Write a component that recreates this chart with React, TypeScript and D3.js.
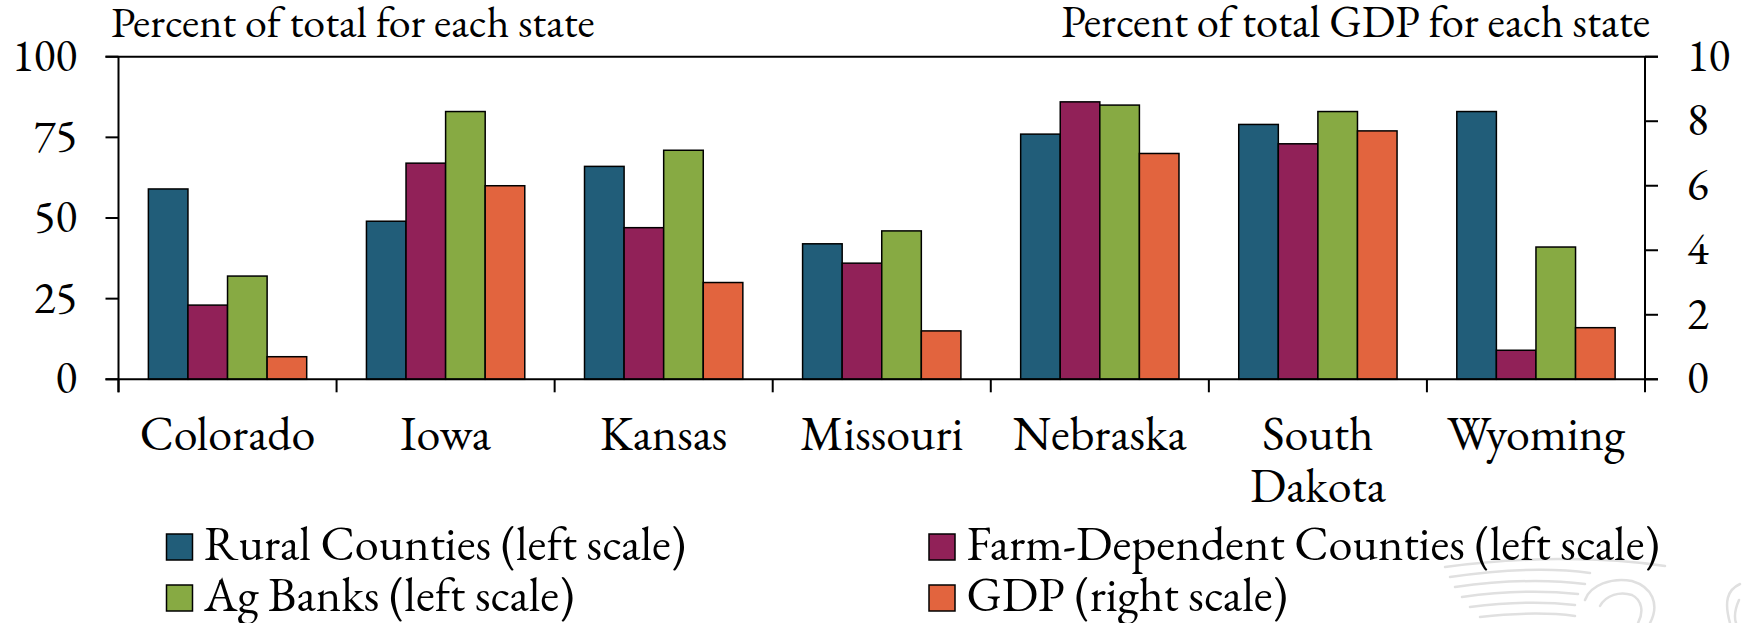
import React from "react";
import * as d3 from "d3";

const states = ["Colorado", "Iowa", "Kansas", "Missouri", "Nebraska", "South Dakota", "Wyoming"];
const ruralCounties = [59, 49, 66, 42, 76, 79, 83];
const farmDependent = [23, 67, 47, 36, 86, 73, 9];
const agBanks = [32, 83, 71, 46, 85, 83, 41];
const gdp = [0.7, 6.0, 3.0, 1.5, 7.0, 7.7, 1.6];
const leftTicks = [0, 25, 50, 75, 100];
const rightTicks = [0, 2, 4, 6, 8, 10];

const seriesNames = ["Rural Counties (left scale)", "Farm-Dependent Counties (left scale)", "Ag Banks (left scale)", "GDP (right scale)"];
const seriesKeys = ["rural", "farm", "ag", "gdp"];
const colors = ["#215D79", "#912158", "#87AA43", "#E2643E"];

const W = 1743;
const H = 623;
const FONT = "EB Garamond";
const ts = (size: number) => ({ fontFamily: FONT, fontSize: size });

export default function App() {
  const left = 118.5, right = 1645, top = 56.7, bottom = 379.3;
  const x0 = d3.scaleBand<string>().domain(states).range([left, right]).padding(0);
  const bw = x0.bandwidth();
  const groupPad = bw * 0.137;
  const x1 = d3.scaleBand<string>().domain(seriesKeys).range([groupPad, bw - groupPad]).padding(0);
  const yL = d3.scaleLinear().domain([0, 100]).range([bottom, top]);
  const yR = d3.scaleLinear().domain([0, 10]).range([bottom, top]);

  const rows = states.map((s, i) => ({
    state: s,
    vals: [
      { key: "rural", y: yL(ruralCounties[i]) },
      { key: "farm", y: yL(farmDependent[i]) },
      { key: "ag", y: yL(agBanks[i]) },
      { key: "gdp", y: yR(gdp[i]) },
    ],
  }));

  const tickLen = 13;
  const legendItems = [
    { name: seriesNames[0], color: colors[0], x: 166.5, y: 560 },
    { name: seriesNames[1], color: colors[1], x: 929, y: 560 },
    { name: seriesNames[2], color: colors[2], x: 166.5, y: 611 },
    { name: seriesNames[3], color: colors[3], x: 929, y: 611 },
  ];

  return (
    <svg width={W} height={H} style={{ position: "absolute", left: 0, top: 0, background: "#fff" }}>
      {/* watermark */}
      <g fill="none" stroke="#e0e0e0" strokeWidth={2.5} strokeLinecap="round">
        <path d="M1445,567 C1520,557 1600,556 1665,566" />
        <path d="M1450,577 C1505,569 1555,568 1590,573" />
        <path d="M1455,587 C1505,580 1545,579 1585,584" />
        <path d="M1462,597 C1505,591 1540,590 1578,594" />
        <path d="M1470,607 C1510,602 1540,601 1575,605" />
        <path d="M1480,617 C1515,613 1545,612 1575,616" />
        <path d="M1585,600 C1590,585 1612,577 1632,581 C1652,587 1660,604 1650,623" />
        <path d="M1600,606 C1606,595 1620,591 1632,595 C1642,600 1644,612 1638,623" />
        <path d="M1730,623 C1724,602 1727,590 1740,584" />
        <path d="M1739,600 C1735,609 1734,617 1736,623" />
      </g>

      {/* titles */}
      <text x={111} y={36.7} style={ts(44)} fill="#000">Percent of total for each state</text>
      <text x={1650} y={36.7} style={ts(44.5)} fill="#000" textAnchor="end">Percent of total GDP for each state</text>

      {/* bars */}
      {rows.map((r) => (
        <g key={r.state} transform={`translate(${x0(r.state)},0)`}>
          {r.vals.map((v, j) => (
            <rect
              key={v.key}
              x={x1(v.key)}
              y={v.y}
              width={x1.bandwidth()}
              height={bottom - v.y}
              fill={colors[j]}
              stroke="#000"
              strokeWidth={1.5}
            />
          ))}
        </g>
      ))}

      {/* axes */}
      <g stroke="#000" strokeWidth={2}>
        <line x1={left - tickLen} x2={right + tickLen} y1={top} y2={top} />
        <line x1={left - tickLen} x2={right + tickLen} y1={bottom} y2={bottom} />
        <line x1={left} x2={left} y1={top} y2={bottom + tickLen} />
        <line x1={right} x2={right} y1={top} y2={bottom + tickLen} />
        {leftTicks.map((t) => (
          <line key={"lt" + t} x1={left - tickLen} x2={left} y1={yL(t)} y2={yL(t)} />
        ))}
        {rightTicks.map((t) => (
          <line key={"rt" + t} x1={right} x2={right + tickLen} y1={yR(t)} y2={yR(t)} />
        ))}
        {states.map((s) => (
          <line key={"xt" + s} x1={x0(s)} x2={x0(s)} y1={bottom} y2={bottom + tickLen} />
        ))}
      </g>

      {/* tick labels */}
      {leftTicks.map((t) => (
        <text key={"ll" + t} x={77} y={yL(t) + 14} style={ts(45)} textAnchor="end">{t}</text>
      ))}
      {rightTicks.map((t) => (
        <text key={"rl" + t} x={1687} y={yR(t) + 14} style={ts(45)}>{t}</text>
      ))}

      {/* category labels */}
      {states.map((s) => {
        const cx = (x0(s) as number) + bw / 2;
        const parts = s === "South Dakota" ? ["South", "Dakota"] : [s];
        return (
          <text key={"cl" + s} x={cx} y={449.5} style={ts(48)} textAnchor="middle">
            {parts.map((p, k) => (
              <tspan key={k} x={cx} dy={k === 0 ? 0 : 52}>{p}</tspan>
            ))}
          </text>
        );
      })}

      {/* legend */}
      {legendItems.map((it) => (
        <g key={it.name}>
          <rect x={it.x} y={it.y - 26} width={26} height={26} fill={it.color} stroke="#000" strokeWidth={1.5} />
          <text x={it.x + 37.5} y={it.y} style={ts(48.3)}>{it.name}</text>
        </g>
      ))}
    </svg>
  );
}
